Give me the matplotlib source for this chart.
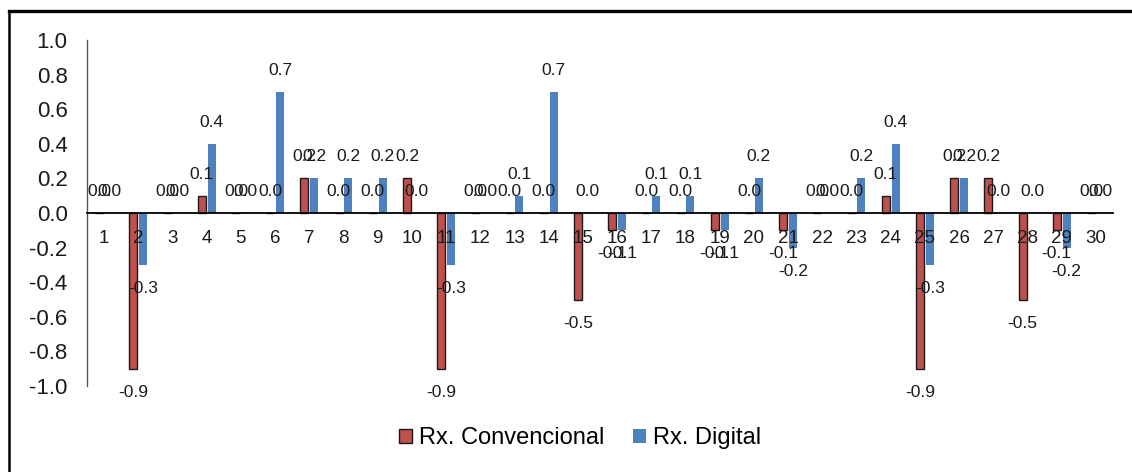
import matplotlib
matplotlib.use("Agg")
import matplotlib.pyplot as plt
from matplotlib.lines import Line2D
from matplotlib.patches import Patch
import numpy as np

plt.rcParams['font.family'] = ['Liberation Sans', 'DejaVu Sans']

categories = [str(i) for i in range(1, 31)]
conv = [0.0, -0.9, 0.0, 0.1, 0.0, 0.0, 0.2, 0.0, 0.0, 0.2,
        -0.9, 0.0, 0.0, 0.0, -0.5, -0.1, 0.0, 0.0, -0.1, 0.0,
        -0.1, 0.0, 0.0, 0.1, -0.9, 0.2, 0.2, -0.5, -0.1, 0.0]
digital = [0.0, -0.3, 0.0, 0.4, 0.0, 0.7, 0.2, 0.2, 0.2, 0.0,
           -0.3, 0.0, 0.1, 0.7, 0.0, -0.1, 0.1, 0.1, -0.1, 0.2,
           -0.2, 0.0, 0.2, 0.4, -0.3, 0.2, 0.0, 0.0, -0.2, 0.0]
series_names = ["Rx. Convencional", "Rx. Digital"]
yticks = [-1.0, -0.8, -0.6, -0.4, -0.2, 0.0, 0.2, 0.4, 0.6, 0.8, 1.0]

red = '#C0504D'
blue = '#4F81BD'

W, H = 1132, 472
fig = plt.figure(figsize=(W / 100, H / 100), dpi=100)
ax = fig.add_axes([87 / W, 1 - 386 / H, (1113 - 87) / W, (386 - 40) / H])

ax.spines['top'].set_visible(False)
ax.spines['right'].set_visible(False)
ax.spines['bottom'].set_position(('data', 0))
ax.spines['bottom'].set_color('black')
ax.spines['bottom'].set_linewidth(1.3)
ax.spines['bottom'].set_zorder(5)
ax.spines['left'].set_color('#595959')
ax.spines['left'].set_linewidth(1.0)

x = np.arange(1, len(categories) + 1)
off = 0.145
bw = 0.235
ax.bar(x - off, conv, bw, color=red, edgecolor='#1a1a1a', linewidth=1.0, zorder=2)
ax.bar(x + off, digital, bw, color=blue, edgecolor='none', zorder=2)

for xs, vals in ((x - off, conv), (x + off, digital)):
    for xi, v in zip(xs, vals):
        dy = 15.5 if v >= 0 else -17
        ax.annotate(f"{v:.1f}", (xi, v), xytext=(0, dy), textcoords='offset points',
                    ha='center', va='center', fontsize=12.5, color='#1a1a1a', zorder=4)

ax.set_xlim(0.5, len(categories) + 0.5)
ax.set_ylim(-1.0, 1.0)
ax.set_yticks(yticks)
ax.set_yticklabels([f"{t:.1f}" for t in yticks])
ax.set_xticks(x)
ax.set_xticklabels(categories)
ax.xaxis.set_zorder(4)
ax.tick_params(axis='x', length=0, pad=12, labelsize=13.5, labelcolor='#1a1a1a')
ax.tick_params(axis='y', length=0, pad=14, labelsize=16, labelcolor='#1a1a1a')

handles = [Patch(facecolor=red, edgecolor='#1a1a1a', linewidth=1.0),
           Patch(facecolor=blue, edgecolor='none')]
fig.legend(handles, series_names, loc='center', bbox_to_anchor=(580 / W, 1 - 438 / H),
           ncol=2, frameon=False, fontsize=17, handlelength=0.55, handleheight=0.55,
           handletextpad=0.3, columnspacing=1.2)

# outer frame (top and left edges visible)
fig.add_artist(Line2D([8.5 / W, 1.0], [1 - 11 / H, 1 - 11 / H], transform=fig.transFigure,
                      color='black', linewidth=2.4))
fig.add_artist(Line2D([8.5 / W, 8.5 / W], [0.0, 1 - 11 / H], transform=fig.transFigure,
                      color='black', linewidth=1.8))

fig.savefig('out.png', dpi=100)
